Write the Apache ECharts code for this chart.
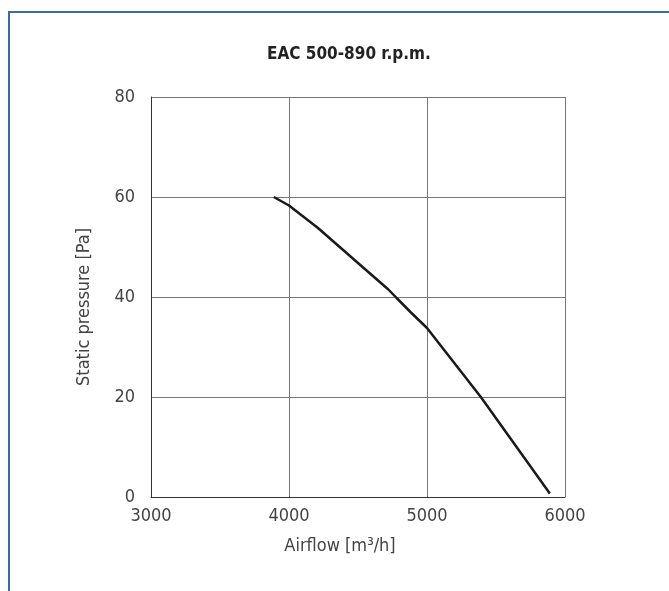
<!DOCTYPE html>
<html>
<head>
<meta charset="utf-8">
<script src="https://cdn.jsdelivr.net/npm/echarts@6/dist/echarts.min.js"></script>
<style>
html,body{margin:0;padding:0;background:#fff;}
#frame{position:absolute;left:8px;top:11px;width:700px;height:700px;border-top:2px solid #3a6ca0;border-left:2px solid #3a6ca0;box-sizing:border-box;}
#chart{position:absolute;left:0;top:0;width:669px;height:591px;}
</style>
</head>
<body>
<div id="frame"></div>
<div id="chart"></div>
<script>
const titleText = 'EAC 500-890 r.p.m.';
const xName = 'Airflow [m³/h]';
const yName = 'Static pressure [Pa]';
const airflow = [3890, 4000, 4210, 4500, 4720, 4780, 4880, 5000, 5390, 5890];
const pressure = [60, 58.3, 53.8, 46.8, 41.5, 39.8, 37.0, 33.8, 20, 0.7];
const xMin = 3000, xMax = 6000, xStep = 1000;
const yMin = 0, yMax = 80, yStep = 20;

const FONT = '"DejaVu Sans Condensed","Liberation Sans Narrow","DejaVu Sans",sans-serif';
const chart = echarts.init(document.getElementById('chart'), null, {renderer: 'canvas'});
chart.setOption({
  animation: false,
  title: {
    text: titleText, left: 262, top: 41,
    textStyle: {fontFamily: FONT, fontSize: 17, fontWeight: 'bold', color: '#222'}
  },
  grid: {left: 151, right: 104, top: 97, bottom: 94, containLabel: false},
  xAxis: {
    type: 'value', min: xMin, max: xMax, interval: xStep,
    name: xName, nameLocation: 'middle', nameGap: 40,
    nameTextStyle: {fontFamily: FONT, fontSize: 18, color: '#444', padding: [0, 36, 0, 0]},
    axisLine: {show: true, lineStyle: {color: '#333', width: 1}},
    axisTick: {show: false},
    axisLabel: {fontFamily: FONT, fontSize: 18, color: '#444', margin: 10, formatter: v => String(v)},
    splitLine: {show: true, lineStyle: {color: '#777', width: 1}}
  },
  yAxis: {
    type: 'value', min: yMin, max: yMax, interval: yStep,
    name: yName, nameLocation: 'middle', nameGap: 58,
    nameTextStyle: {fontFamily: FONT, fontSize: 18, color: '#444', padding: [0, 20, 0, 0]},
    axisLine: {show: true, lineStyle: {color: '#333', width: 1}},
    axisTick: {show: false},
    axisLabel: {fontFamily: FONT, fontSize: 18, color: '#444', margin: 16, formatter: v => String(v)},
    splitLine: {show: true, lineStyle: {color: '#777', width: 1}}
  },
  series: [{
    type: 'line',
    data: airflow.map((x, i) => [x, pressure[i]]),
    showSymbol: false,
    smooth: false,
    lineStyle: {color: '#1a1a1a', width: 2.5}
  }]
});
</script>
</body>
</html>
